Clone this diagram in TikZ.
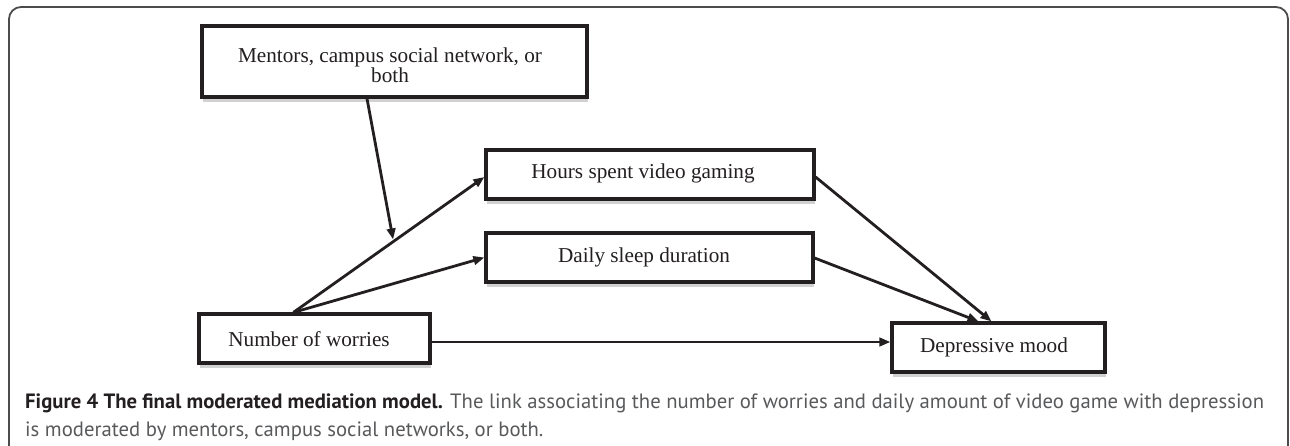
\documentclass[tikz,border=0pt]{standalone}
\usepackage{fontspec}
\setmainfont{Liberation Serif}
\newfontfamily\capfont{PT Sans}
\usetikzlibrary{arrows.meta,shadows}
\definecolor{ink}{HTML}{231F20}
\definecolor{capgray}{HTML}{58595B}
\begin{document}
\begin{tikzpicture}[x=1pt,y=-1pt,
  box/.style={draw=ink, line width=3.2pt, fill=white, inner sep=0pt,
    general shadow={fill=black!18, shadow xshift=1pt, shadow yshift=-4.5pt}},
  lbl/.style={text=ink, inner sep=0pt, font=\fontsize{21.2}{20}\selectfont},
  link/.style={draw=ink, line width=2.8pt, -{Triangle[length=11pt,width=8.5pt]}},
  captxt/.style={anchor=base west, inner sep=0pt, font=\capfont\fontsize{20.7}{28}\selectfont}]
\useasboundingbox (0,0) rectangle (1290,445);
% outer frame
\draw[black!70, line width=1.8pt, rounded corners=12pt] (9,446) -- (9,7) -- (1288,7) -- (1288,446);
% boxes
\node[box, minimum width=385pt, minimum height=71pt] (mod) at (394.5,61.5) {};
\node[box, minimum width=328pt, minimum height=49pt] (hrs) at (650,174.5) {};
\node[box, minimum width=327pt, minimum height=49pt] (slp) at (649.5,257.5) {};
\node[box, minimum width=231pt, minimum height=49pt] (wor) at (314.5,338.5) {};
\node[box, minimum width=213pt, minimum height=49pt] (dep) at (998.5,347.5) {};
% labels
\node[lbl, align=center] (modt) at (390,65) {Mentors, campus social network, or\\both};
\node[lbl] (hrst) at (643,173) {Hours spent video gaming};
\node[lbl] (slpt) at (644,257) {Daily sleep duration};
\node[lbl] (wort) at (309,339) {Number of worries};
\node[lbl] (dept) at (994,347) {Depressive mood};
% connectors
\draw[link] ([xshift=96pt]wor.north west) -- coordinate[pos=0.524] (mid) ([yshift=-2.5pt]hrs.west);
\draw[link] ([xshift=96pt]wor.north west) -- (slp.west);
\draw[link, shorten >=2pt] ([xshift=-27.5pt]mod.south) -- (mid);
\draw[link] ([yshift=-2.5pt]hrs.east) -- ([xshift=-7pt]dep.north);
\draw[link] ([yshift=-0.5pt]slp.east) -- ([xshift=-20pt]dep.north);
\draw[link] ([yshift=-3.5pt]wor.east) -- ([yshift=5.5pt]dep.west);
% caption
\node[captxt] (cap1) at (25,408) {\textcolor{ink}{\textbf{Figure 4 The final moderated mediation model.}} \textcolor{capgray}{The link associating the number of worries and daily amount of video game with depression}};
\node[captxt] (cap2) at (25,436) {\textcolor{capgray}{is moderated by mentors, campus social networks, or both.}};
\end{tikzpicture}
\end{document}
